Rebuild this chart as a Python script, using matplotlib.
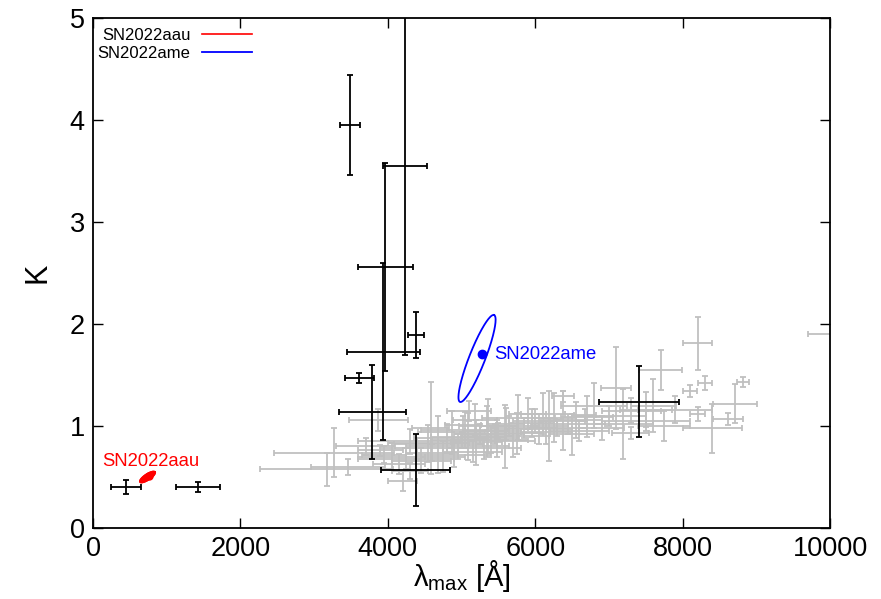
import numpy as np
import matplotlib
matplotlib.use("Agg")
import matplotlib.pyplot as plt

plt.rcParams["font.family"] = ["Liberation Sans", "DejaVu Sans"]
plt.rcParams["mathtext.fontset"] = "custom"
plt.rcParams["mathtext.rm"] = "Liberation Sans"
plt.rcParams["mathtext.it"] = "Liberation Sans:italic"

# comparison sample (grey): lambda_max [A], K and their errors
gray_x = [3170, 3270, 3460, 3870, 3900, 4050, 4150, 4300, 4580, 4400,
          4450, 4685, 4865, 4600, 4750, 5092, 5183, 5364, 5590, 5771,
          4950, 5000, 5250, 5400, 5500, 5650, 5300, 5850, 4300, 5900,
          6000, 6191, 6380, 6381, 6495, 6700, 6300, 6450, 6600, 7096,
          7195, 7295, 7503, 7603, 7703, 7897, 8204, 8815, 8304, 8100,
          8711, 8204, 8612, 8404, 10150, 7000, 7300, 6900, 7500, 5700,
          3950, 4200, 7750, 5100, 6100, 6676,
          4800, 5050, 5200, 5450, 5600, 5350, 4900, 5750, 6050, 6250,
          4550, 5150, 5950, 6550, 4250, 3700, 6800, 5480, 6150, 5020]
gray_y = [0.575, 0.74, 0.60, 1.06, 0.76, 0.70, 0.63, 0.56, 0.98, 0.78,
          0.66, 0.82, 0.94, 0.74, 0.70, 0.895, 1.06, 1.00, 0.90, 1.08,
          0.80, 0.86, 0.92, 0.86, 0.95, 1.00, 0.78, 0.98, 0.85, 1.12,
          1.05, 1.00, 1.29, 1.05, 0.92, 1.09, 0.98, 1.02, 0.95, 1.37,
          1.02, 0.93, 1.16, 1.20, 1.55, 1.16, 1.81, 1.43, 1.42, 1.34,
          1.22, 1.12, 1.065, 0.98, 1.90, 1.10, 1.15, 0.98, 1.05, 0.85,
          0.72, 0.46, 1.00, 1.15, 1.12, 1.11,
          0.88, 0.96, 0.84, 0.92, 1.02, 0.95, 0.72, 0.93, 0.97, 1.08,
          0.83, 0.75, 1.03, 1.06, 0.68, 0.80, 1.20, 0.88, 0.94, 1.01]
gray_xerr = [900, 810, 500, 400, 300, 450, 350, 250, 250, 500,
             400, 600, 450, 350, 300, 500, 300, 400, 600, 500,
             700, 400, 350, 500, 300, 400, 500, 450, 700, 250,
             300, 250, 150, 300, 300, 350, 400, 500, 400, 200,
             400, 250, 350, 300, 290, 500, 200, 80, 100, 100,
             300, 100, 200, 400, 450, 500, 400, 300, 600, 300,
             300, 200, 350, 300, 300, 150,
             450, 600, 350, 400, 250, 300, 500, 350, 450, 300,
             550, 400, 300, 350, 650, 400, 450, 300, 350, 250]
gray_yerr = [0.16, 0.24, 0.08, 0.11, 0.05, 0.13, 0.10, 0.08, 0.45, 0.10,
             0.12, 0.28, 0.21, 0.08, 0.15, 0.23, 0.16, 0.26, 0.31, 0.22,
             0.12, 0.08, 0.10, 0.12, 0.08, 0.10, 0.10, 0.10, 0.12, 0.15,
             0.12, 0.34, 0.05, 0.29, 0.20, 0.20, 0.08, 0.10, 0.10, 0.40,
             0.34, 0.06, 0.17, 0.26, 0.20, 0.13, 0.26, 0.05, 0.07, 0.06,
             0.19, 0.07, 0.06, 0.24, 0.02, 0.10, 0.12, 0.12, 0.10, 0.15,
             0.08, 0.10, 0.15, 0.10, 0.20, 0.06,
             0.14, 0.18, 0.22, 0.10, 0.16, 0.25, 0.12, 0.20, 0.15, 0.24,
             0.18, 0.10, 0.14, 0.18, 0.10, 0.08, 0.22, 0.18, 0.12, 0.09]

# highlighted sample (black)
black_x = [3487, 4233, 3966, 3940, 4383, 3614, 3790, 4378, 7408, 448, 1429]
black_y = [3.95, 3.55, 2.56, 1.73, 1.89, 1.467, 1.134, 0.569, 1.24, 0.40, 0.40]
black_xerr = [135, 300, 370, 495, 113, 200, 450, 465, 540, 200, 300]
black_yerr = [0.49, 1.85, 1.02, 0.87, 0.225, 0.05, 0.46, 0.35, 0.35, 0.07, 0.05]

# confidence ellipses: centre, semi-major vector, semi-minor vector (data units)
ame_center = (5210, 1.662)
ame_major = (231, 0.426)
ame_minor = (101, -0.028)
ame_best = (5278, 1.706)

aau_center = (739, 0.50)
aau_major = (102, 0.049)
aau_minor = (22, -0.024)
aau_best = (765, 0.51)


def ellipse(center, major, minor, n=200):
    t = np.linspace(0, 2 * np.pi, n)
    ex = center[0] + major[0] * np.cos(t) + minor[0] * np.sin(t)
    ey = center[1] + major[1] * np.cos(t) + minor[1] * np.sin(t)
    return ex, ey


fig = plt.figure(figsize=(8.81, 5.99), dpi=100)
ax = fig.add_axes([0.1056, 0.1185, 0.8366, 0.8515])

ax.errorbar(gray_x, gray_y, xerr=gray_xerr, yerr=gray_yerr, fmt="none",
            ecolor="#c0c0c0", elinewidth=1.3, capsize=2.5, capthick=1.3, zorder=2)
ax.errorbar(black_x, black_y, xerr=black_xerr, yerr=black_yerr, fmt="none",
            ecolor="black", elinewidth=1.3, capsize=2.5, capthick=1.3, zorder=3)

rx, ry = ellipse(aau_center, aau_major, aau_minor)
ax.fill(rx, ry, color="red", zorder=4)
ax.plot(rx, ry, color="red", lw=1.2, zorder=4, label="SN2022aau")
ax.plot(*aau_best, "o", color="red", ms=5, zorder=5)

bx, by = ellipse(ame_center, ame_major, ame_minor)
ax.plot(bx, by, color="blue", lw=1.3, zorder=4, label="SN2022ame")
ax.plot(*ame_best, "o", color="blue", ms=6, zorder=5)

ax.text(130, 0.65, "SN2022aau", color="red", fontsize=13.3, ha="left", va="center")
ax.text(5440, 1.70, "SN2022ame", color="blue", fontsize=13.3, ha="left", va="center")

ax.set_xlim(0, 10000)
ax.set_ylim(0, 5)
ax.set_xticks([0, 2000, 4000, 6000, 8000, 10000])
ax.set_yticks([0, 1, 2, 3, 4, 5])
ax.tick_params(direction="in", top=True, right=True, length=7, width=1,
               labelsize=19.5, pad=6)
for s in ax.spines.values():
    s.set_linewidth(1.3)

ax.set_xlabel(r"λ$_{\rm max}$ [Å]", fontsize=21, labelpad=-3)
ax.set_ylabel("K", fontsize=22, labelpad=12)

ax.legend(loc="upper left", bbox_to_anchor=(0.006, 0.98), frameon=False,
          markerfirst=False, fontsize=12, handlelength=3.0, handletextpad=0.7,
          labelspacing=0.15, borderaxespad=0, borderpad=0)

fig.savefig("out.png", dpi=100)
